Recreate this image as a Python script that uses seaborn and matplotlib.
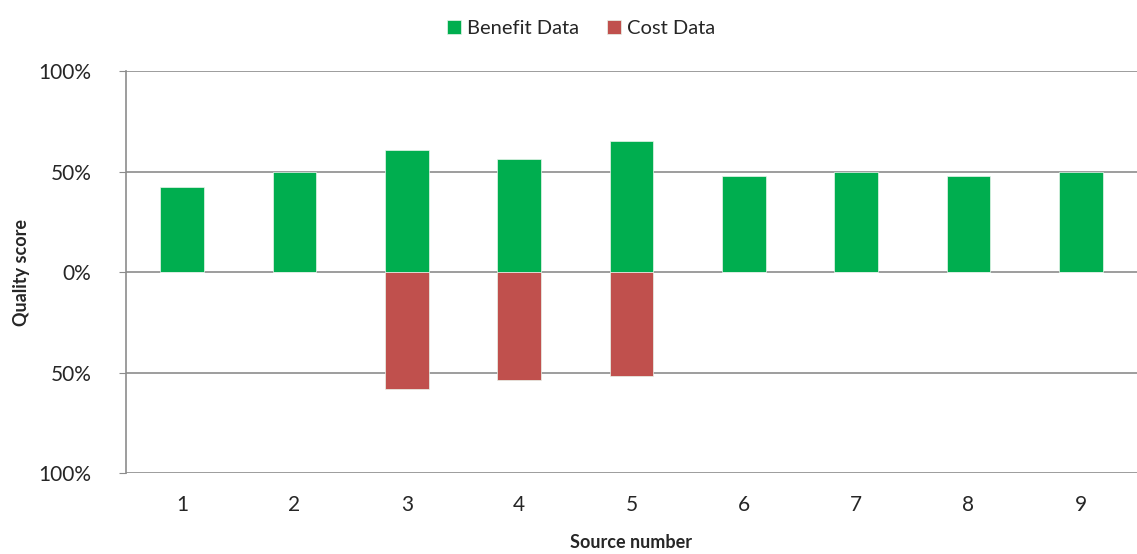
import pandas as pd
import matplotlib
matplotlib.use("Agg")
import matplotlib.pyplot as plt
import seaborn as sns
from matplotlib.ticker import FuncFormatter

# values (percent)
sources = ['1', '2', '3', '4', '5', '6', '7', '8', '9']
benefit = [42.5, 50, 60.5, 56, 65, 48, 50, 48, 50]
cost = [0, 0, -58, -53.5, -51.5, 0, 0, 0, 0]

df = pd.concat([
    pd.DataFrame({'Source': sources, 'Score': benefit, 'Type': 'Benefit Data'}),
    pd.DataFrame({'Source': sources, 'Score': cost, 'Type': 'Cost Data'}),
])

sns.set_style('white')
plt.rcParams['font.family'] = ['Lato', 'DejaVu Sans']

fig = plt.figure(figsize=(11.37, 5.54), dpi=100)
ax = fig.add_axes([0.1108, 0.1462, 0.8892, 0.7256])

sns.barplot(data=df, x='Source', y='Score', hue='Type', dodge=False,
            palette={'Benefit Data': '#00AE4F', 'Cost Data': '#C0504D'},
            saturation=1, width=0.39, edgecolor='#E8F5EC', linewidth=0.5, ax=ax)

ax.set_ylim(-100, 100)
ax.set_yticks([-100, -50, 0, 50, 100])
ax.yaxis.set_major_formatter(FuncFormatter(lambda v, p: f'{abs(v):.0f}%'))
ax.grid(axis='y', color='#8C8C8C', linewidth=1.2)
ax.set_axisbelow(True)
for s in ['top', 'right', 'bottom']:
    ax.spines[s].set_visible(False)
ax.spines['left'].set_color('#8C8C8C')
ax.spines['left'].set_linewidth(1.2)
ax.tick_params(axis='y', left=True, length=5, color='#8C8C8C', labelsize=15, pad=20)
ax.tick_params(axis='x', bottom=False, labelsize=15, pad=12)

ax.set_xlabel('Source number', fontsize=13, fontweight='bold', labelpad=14)
ax.set_ylabel('Quality score', fontsize=13, fontweight='bold', labelpad=6)

ax.legend(loc='lower center', bbox_to_anchor=(0.45, 1.065), ncol=2, frameon=False,
          fontsize=14.5, handlelength=0.7, handleheight=0.7, handletextpad=0.3,
          columnspacing=1.4, borderaxespad=0)

fig.savefig('out.png', dpi=100)
